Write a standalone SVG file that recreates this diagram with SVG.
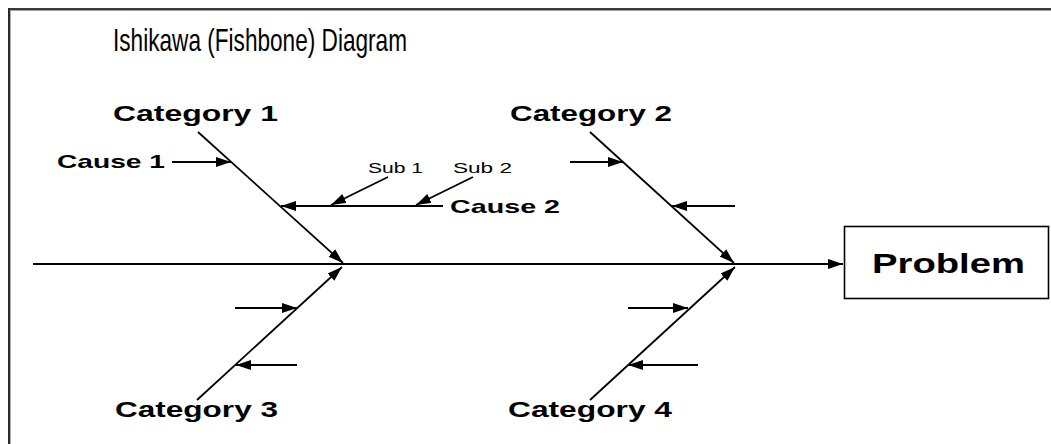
<svg xmlns="http://www.w3.org/2000/svg" width="1051" height="444" viewBox="0 0 1051 444">
  <style>
    .bone { stroke: #000; stroke-width: 1.8; fill: none; }
    .title { font-family: "Liberation Sans", Arial, sans-serif; font-size: 32px; fill: #000; }
    .cat { font-family: "Liberation Sans", Arial, sans-serif; font-size: 22px; font-weight: bold; fill: #000; }
    .cause { font-family: "Liberation Sans", Arial, sans-serif; font-size: 19px; font-weight: bold; fill: #000; }
    .sub { font-family: "Liberation Sans", Arial, sans-serif; font-size: 15px; fill: #000; }
    .prob { font-family: "Liberation Sans", Arial, sans-serif; font-size: 28px; font-weight: bold; fill: #000; }
  </style>
  <defs>
    <marker id="arrow" markerUnits="userSpaceOnUse" markerWidth="16" markerHeight="11" refX="15" refY="5" orient="auto">
      <path d="M0,0 L15,5 L0,10 z" fill="#000"/>
    </marker>
  </defs>

  <rect width="1051" height="444" fill="#fff"/>

  <!-- window frame -->
  <g id="frame">
    <line x1="8" y1="9" x2="1051" y2="9" stroke="#3a3a3a" stroke-width="2"/>
    <line x1="10" y1="10.5" x2="1051" y2="10.5" stroke="#a0a0a0" stroke-width="1"/>
    <line x1="9" y1="8" x2="9" y2="444" stroke="#2a2a2a" stroke-width="2"/>
    <line x1="10.5" y1="11" x2="10.5" y2="444" stroke="#b0b0b0" stroke-width="1"/>
  </g>

  <g id="title">
    <text class="title" x="113" y="51" textLength="294" lengthAdjust="spacingAndGlyphs">Ishikawa (Fishbone) Diagram</text>
  </g>

  <g id="connectors">
    <!-- spine -->
    <line class="bone" x1="33" y1="264" x2="843" y2="264" marker-end="url(#arrow)"/>
    <!-- category bones -->
    <line class="bone" x1="198" y1="132" x2="343" y2="263" marker-end="url(#arrow)"/>
    <line class="bone" x1="590" y1="132" x2="734" y2="263" marker-end="url(#arrow)"/>
    <line class="bone" x1="197" y1="400" x2="342" y2="267" marker-end="url(#arrow)"/>
    <line class="bone" x1="590" y1="400" x2="735" y2="267" marker-end="url(#arrow)"/>
    <!-- causes on category 1 -->
    <line class="bone" x1="172" y1="162" x2="231" y2="162" marker-end="url(#arrow)"/>
    <line class="bone" x1="443" y1="206" x2="281" y2="206" marker-end="url(#arrow)"/>
    <!-- sub causes -->
    <line class="bone" x1="388" y1="177" x2="331" y2="205" marker-end="url(#arrow)"/>
    <line class="bone" x1="473" y1="177" x2="416" y2="205" marker-end="url(#arrow)"/>
    <!-- causes on category 2 -->
    <line class="bone" x1="570" y1="162" x2="623" y2="162" marker-end="url(#arrow)"/>
    <line class="bone" x1="735" y1="206" x2="672" y2="206" marker-end="url(#arrow)"/>
    <!-- causes on category 3 -->
    <line class="bone" x1="235" y1="308" x2="297" y2="308" marker-end="url(#arrow)"/>
    <line class="bone" x1="297" y1="365" x2="236" y2="365" marker-end="url(#arrow)"/>
    <!-- causes on category 4 -->
    <line class="bone" x1="628" y1="308" x2="688" y2="308" marker-end="url(#arrow)"/>
    <line class="bone" x1="698" y1="365" x2="628" y2="365" marker-end="url(#arrow)"/>
  </g>

  <g id="category1"><text class="cat" x="113" y="121" textLength="165" lengthAdjust="spacingAndGlyphs">Category 1</text></g>
  <g id="category2"><text class="cat" x="510" y="121" textLength="162" lengthAdjust="spacingAndGlyphs">Category 2</text></g>
  <g id="category3"><text class="cat" x="115" y="417" textLength="163" lengthAdjust="spacingAndGlyphs">Category 3</text></g>
  <g id="category4"><text class="cat" x="508" y="417" textLength="164" lengthAdjust="spacingAndGlyphs">Category 4</text></g>
  <g id="cause1"><text class="cause" x="57" y="168" textLength="108" lengthAdjust="spacingAndGlyphs">Cause 1</text></g>
  <g id="cause2"><text class="cause" x="450" y="213" textLength="110" lengthAdjust="spacingAndGlyphs">Cause 2</text></g>
  <g id="sub1"><text class="sub" x="368" y="173" textLength="55" lengthAdjust="spacingAndGlyphs">Sub 1</text></g>
  <g id="sub2"><text class="sub" x="453" y="173" textLength="59" lengthAdjust="spacingAndGlyphs">Sub 2</text></g>

  <g id="problem">
    <rect x="844.5" y="226.5" width="204" height="72" fill="#fff" stroke="#000" stroke-width="1.6"/>
    <text class="prob" x="872" y="273" textLength="153" lengthAdjust="spacingAndGlyphs">Problem</text>
  </g>
</svg>
